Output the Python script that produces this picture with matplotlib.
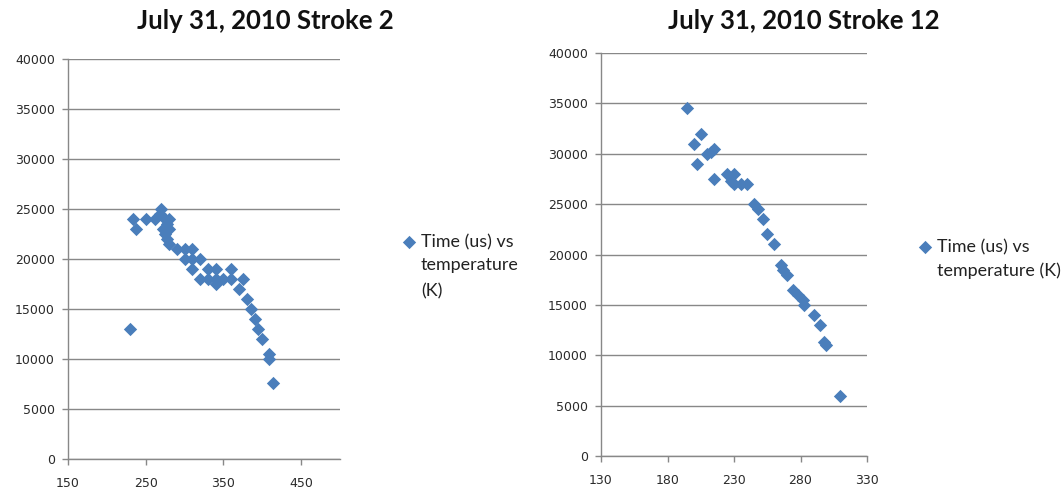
#!/usr/bin/env python3
"""Two Excel-style scatter charts: time vs temperature, July 31 2010 strokes 2 and 12."""
import matplotlib
matplotlib.use("Agg")
import matplotlib.pyplot as plt

# ── Stroke 2: temperature (K), time (us) ──
s2_temp = [230, 233, 238, 250, 262, 268, 270, 275, 272, 278, 280, 280, 275, 278,
           280, 290, 300, 310, 300, 310, 310, 320, 330, 340, 320, 330, 340, 340,
           350, 360, 360, 375, 370, 380, 385, 390, 395, 400, 408, 408, 414]
s2_time = [13000, 24000, 23000, 24000, 24000, 24500, 25000, 24000, 23000, 23500,
           24000, 23000, 22500, 22000, 21500, 21000, 21000, 21000, 20000, 19000,
           20000, 20000, 19000, 19000, 18000, 18000, 17500, 18000, 18000, 19000,
           18000, 18000, 17000, 16000, 15000, 14000, 13000, 12000, 10500, 10000,
           7600]

# ── Stroke 12 ──
s12_temp = [195, 205, 200, 202, 210, 213, 215, 215, 225, 230, 228, 230, 235, 240,
            245, 248, 252, 255, 260, 265, 267, 270, 274, 278, 282, 283, 290, 295,
            298, 299, 310]
s12_time = [34500, 32000, 31000, 29000, 30000, 30200, 30500, 27500, 28000, 28000,
            27300, 27000, 27000, 27000, 25000, 24500, 23500, 22000, 21000, 19000,
            18500, 18000, 16500, 16000, 15500, 15000, 14000, 13000, 11300, 11000,
            6000]

titles = ["July 31, 2010 Stroke 2", "July 31, 2010 Stroke 12"]
x_limits = [(150, 500), (130, 330)]
x_ticks = [[150, 250, 350, 450], [130, 180, 230, 280, 330]]
y_ticks = list(range(0, 40001, 5000))
legend_lines = [("Time (us) vs", "temperature\n(K)"),
                ("Time (us) vs", "temperature (K)")]

BLUE = "#4A7EBB"
GRID = "#888888"
W, H = 1064, 493


def main() -> None:
    fig = plt.figure(figsize=(W / 100, H / 100), dpi=100)
    fig.patch.set_facecolor("white")

    # axes boxes in pixels: left, right, top, bottom
    boxes = [(68, 340, 59, 459), (601, 867, 53, 456)]
    title_x = [265, 804]
    legend_anchor = [(403, 242), (919, 247)]
    data = [(s2_temp, s2_time), (s12_temp, s12_time)]

    for k, (l, r, t, b) in enumerate(boxes):
        ax = fig.add_axes([l / W, 1 - b / H, (r - l) / W, (b - t) / H])
        xs, ys = data[k]
        ax.scatter(xs, ys, marker="D", s=46, color=BLUE, linewidths=0,
                   zorder=3, label=legend_lines[k][0])
        ax.set_xlim(*x_limits[k])
        ax.set_ylim(0, 40000)
        ax.set_xticks(x_ticks[k])
        ax.set_yticks(y_ticks)
        ax.yaxis.grid(True, color=GRID, linewidth=1.0)
        ax.set_axisbelow(True)
        for side in ("top", "right"):
            ax.spines[side].set_visible(False)
        for side in ("left", "bottom"):
            ax.spines[side].set_color(GRID)
            ax.spines[side].set_linewidth(1.0)
        ax.tick_params(axis="both", direction="out", length=4, width=1.0,
                       color=GRID, labelsize=9, labelcolor="#2a2a2a")
        ax.tick_params(axis="x", pad=9)
        ax.tick_params(axis="y", pad=5.5)
        for lab in ax.get_xticklabels() + ax.get_yticklabels():
            lab.set_family("DejaVu Sans")

        fig.text(title_x[k] / W, 1 - 21 / H, titles[k], ha="center",
                 va="center", fontsize=18.5, fontweight="bold",
                 family="Lato", color="#111111")

        lx, ly = legend_anchor[k]
        leg = ax.legend(loc="center left",
                        bbox_to_anchor=(lx / W, 1 - ly / H),
                        bbox_transform=fig.transFigure, frameon=False,
                        handletextpad=0.3, handlelength=0.7,
                        borderpad=0, borderaxespad=0,
                        prop={"family": "Lato", "size": 12.9})
        first = leg.get_texts()[0]
        first.set_color("#222222")
        # remaining lines hang under the legend label (drawn after legend)
        ax.annotate(legend_lines[k][1], xy=(0, 0), xycoords=first,
                    xytext=(0, -5.0), textcoords="offset points",
                    ha="left", va="top", fontsize=12.9, family="Lato",
                    color="#222222", linespacing=1.75, zorder=10)

    fig.savefig("out.png", dpi=100)


if __name__ == "__main__":
    main()
